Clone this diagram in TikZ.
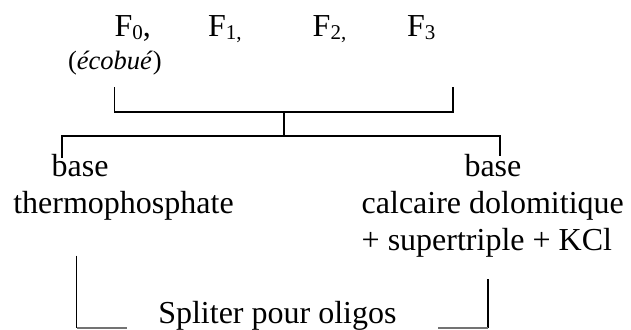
\documentclass[tikz,border=0pt]{standalone}
\usepackage{fontspec}
\setmainfont{Liberation Serif}
\newcommand{\subsc}[1]{\raisebox{-2.5pt}{\fontsize{21}{21}\selectfont #1}}
\tikzset{
  txt/.style={anchor=base west, inner sep=0pt, outer sep=0pt, font=\fontsize{32}{38}\selectfont},
  itxt/.style={anchor=base west, inner sep=0pt, outer sep=0pt, font=\fontsize{26.5}{30}\selectfont},
  link/.style={line width=1.8pt, black},
  foot/.style={line width=1.4pt, black!55}
}
\begin{document}
\begin{tikzpicture}[x=1pt,y=-1pt]
\useasboundingbox (0,0) rectangle (631,329);
% top labels
\node[txt] (f0) at (114.5,36.7) {F\subsc{0},};
\node[txt] (f1) at (208,36.7) {F\subsc{1,}};
\node[txt] (f2) at (312.7,36.7) {F\subsc{2,}};
\node[txt] (f3) at (407,36.7) {F\subsc{3}};
\node[itxt] (eco) at (68,69.3) {(\textit{écobué})};
% middle labels
\node[txt] (baseL) at (51.7,176.7) {base};
\node[txt] (thermo) at (13.3,213.3) {thermophosphate};
\node[txt] (baseR) at (464.5,176.7) {base};
\node[txt] (calc) at (361.7,213.3) {calcaire dolomitique};
\node[txt] (sup) at (361.7,250) {+ supertriple + KCl};
% bottom label
\node[txt] (split) at (158.3,323.3) {Spliter pour oligos};
% bracket coordinates
\coordinate (tL) at (114.5,87);
\coordinate (tR) at (452.7,87);
\coordinate (bL) at (114.5,112);
\coordinate (bR) at (452.7,112);
\coordinate (mT) at (284.3,112);
\coordinate (mB) at (284.3,135.7);
\coordinate (hL) at (62,135.7);
\coordinate (hR) at (500.3,135.7);
\coordinate (dL) at (62,158);
\coordinate (dR) at (500.3,156);
\coordinate (sL) at (76.5,255.5);
\coordinate (sLb) at (76.5,328);
\coordinate (sLe) at (126.7,328);
\coordinate (sR) at (488.3,279);
\coordinate (sRb) at (488.3,328);
\coordinate (sRe) at (438.3,328);
% connectors
\draw[link] (tL) -- (bL) -- (bR) -- (tR);
\draw[link] (mT) -- (mB);
\draw[link] (dL) -- (hL) -- (hR) -- (dR);
\draw[link] (sL) -- (sLb);
\draw[link] (sR) -- (sRb);
\draw[foot] (sLb) -- (sLe);
\draw[foot] (sRb) -- (sRe);
\end{tikzpicture}
\end{document}
